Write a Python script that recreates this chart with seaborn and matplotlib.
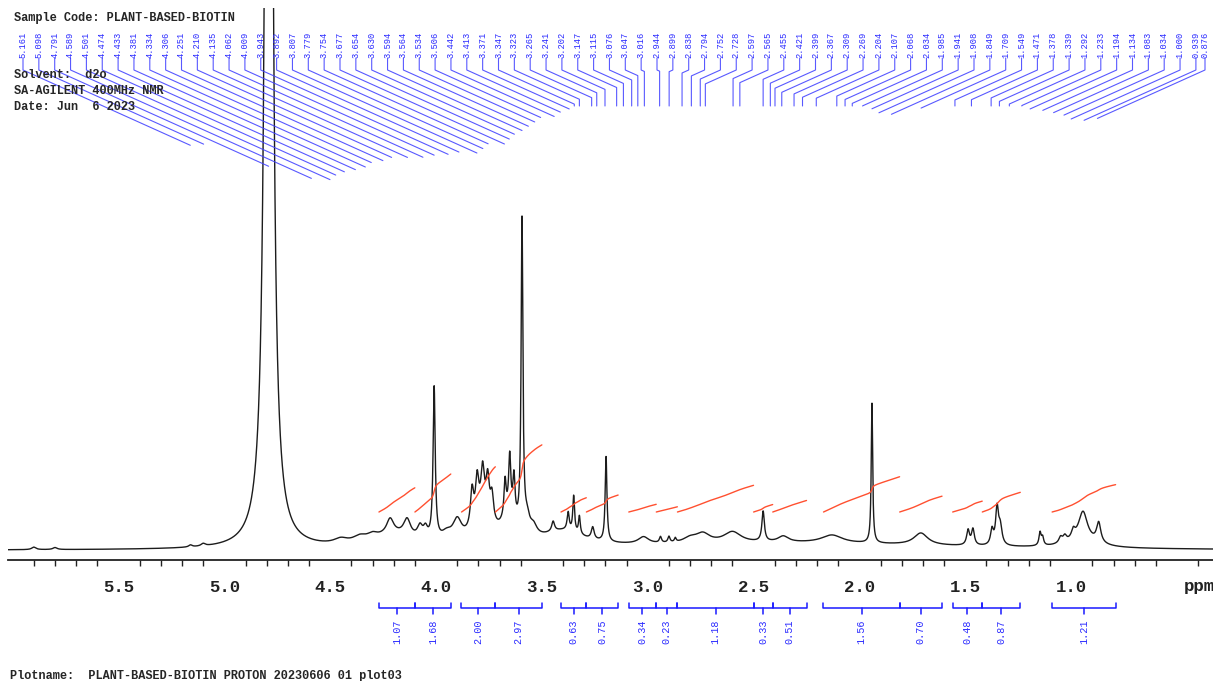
import numpy as np
import pandas as pd
import matplotlib
matplotlib.use("Agg")
import matplotlib.pyplot as plt
import seaborn as sns
from matplotlib.transforms import blended_transform_factory
from matplotlib.ticker import MultipleLocator, FuncFormatter

# ---------------- data ----------------
baseline_level = 9.5
peak_ppm = [4.790, 5.90, 5.80, 5.16, 5.10,
            4.45, 4.36, 4.30, 4.20, 4.217, 4.137, 4.076, 4.05, 4.009,
            3.95, 3.90, 3.78, 3.830, 3.806, 3.780, 3.756, 3.736,
            3.655, 3.674, 3.652, 3.632, 3.594, 3.57, 3.54,
            3.40, 3.447, 3.376, 3.350, 3.323, 3.26, 3.197,
            2.30, 3.02, 2.94, 2.90, 2.87, 2.80, 2.74, 2.60, 2.455, 2.36, 2.13,
            1.941, 1.71, 1.487, 1.464, 1.374, 1.350, 1.335, 1.147, 1.135,
            0.95, 1.05, 1.03, 0.99, 0.944, 0.87]
peak_height = [2430, 2.5, 2.0, 2.0, 2.5,
               5, 6, 5, 12, 15, 17, 12, 10, 152,
               8, 20, 32, 36, 38, 38, 36, 26,
               25, 35, 55, 40, 310, 15, 10,
               15, 10, 18, 36, 18, 12, 85,
               7, 7, 6, 6, 4, 5, 9, 11, 30, 6, 8,
               140, 12, 15, 16, 15, 36, 18, 13, 8,
               8, 6, 6, 8, 28, 20]
peak_hwhm = [0.012, 0.012, 0.012, 0.010, 0.012,
             0.04, 0.04, 0.03, 0.12, 0.02, 0.02, 0.015, 0.012, 0.006,
             0.03, 0.025, 0.045, 0.009, 0.009, 0.009, 0.009, 0.009,
             0.04, 0.006, 0.006, 0.006, 0.005, 0.015, 0.02,
             0.12, 0.008, 0.006, 0.005, 0.005, 0.008, 0.005,
             0.9, 0.03, 0.006, 0.006, 0.005, 0.04, 0.04, 0.05, 0.007, 0.03, 0.06,
             0.004, 0.04, 0.008, 0.008, 0.008, 0.008, 0.01, 0.006, 0.006,
             0.08, 0.01, 0.01, 0.01, 0.025, 0.012]

peak_labels = [5.161, 5.098, 4.791, 4.589, 4.501, 4.474, 4.433, 4.381, 4.334, 4.306,
               4.251, 4.210, 4.135, 4.062, 4.009, 3.943, 3.892, 3.807, 3.779, 3.754,
               3.677, 3.654, 3.630, 3.594, 3.564, 3.534, 3.506, 3.442, 3.413, 3.371,
               3.347, 3.323, 3.265, 3.241, 3.202, 3.147, 3.115, 3.076, 3.047, 3.016,
               2.944, 2.899, 2.838, 2.794, 2.752, 2.728, 2.597, 2.565, 2.455, 2.421,
               2.399, 2.367, 2.309, 2.269, 2.204, 2.107, 2.068, 2.034, 1.985, 1.941,
               1.908, 1.849, 1.709, 1.549, 1.471, 1.378, 1.339, 1.292, 1.233, 1.194,
               1.134, 1.083, 1.034, 1.000, 0.939, 0.876]

int_start = [4.27, 4.10, 3.88, 3.72, 3.41, 3.29, 3.09, 2.96, 2.86, 2.50, 2.41, 2.17, 1.81, 1.56, 1.42, 1.09]
int_end = [4.10, 3.93, 3.72, 3.50, 3.29, 3.14, 2.96, 2.86, 2.50, 2.41, 2.25, 1.81, 1.61, 1.42, 1.24, 0.79]
int_values = [1.07, 1.68, 2.00, 2.97, 0.63, 0.75, 0.34, 0.23, 1.18, 0.33, 0.51, 1.56, 0.70, 0.48, 0.87, 1.21]

header_lines = ["Sample Code: PLANT-BASED-BIOTIN", "Solvent:  d2o",
                "SA-AGILENT 400MHz NMR", "Date: Jun  6 2023"]
plotname = "Plotname:  PLANT-BASED-BIOTIN PROTON 20230606 01 plot03"

# ---------------- spectrum from peak list ----------------
ppm = np.linspace(6.03, 0.32, 12000)
intensity = np.full_like(ppm, baseline_level)
for p, h, w in zip(peak_ppm, peak_height, peak_hwhm):
    intensity += h / (1.0 + ((ppm - p) / w) ** 2)
df = pd.DataFrame({"ppm": ppm, "intensity": intensity})

# ---------------- figure ----------------
sns.set_theme(style="white")
plt.rcParams["font.family"] = ["Liberation Mono", "DejaVu Sans Mono"]

W, H = 1213, 681
fig = plt.figure(figsize=(W / 100, H / 100), dpi=100)
ax = fig.add_axes([8 / W, (H - 560) / H, (W - 8) / W, (560 - 8) / H])
sns.lineplot(data=df, x="ppm", y="intensity", ax=ax, estimator=None, sort=False,
             color="#1c1c1c", lw=1.0)
ax.set_xlim(6.022, 0.330)
ax.set_ylim(0, 552)
ax.set_xlabel("")
ax.set_ylabel("")
ax.set_yticks([])
for s in ["top", "left", "right"]:
    ax.spines[s].set_visible(False)
ax.spines["bottom"].set_color("#222222")
ax.spines["bottom"].set_linewidth(1.3)
ax.xaxis.set_major_locator(MultipleLocator(0.5))
ax.xaxis.set_minor_locator(MultipleLocator(0.1))
ax.xaxis.set_major_formatter(FuncFormatter(
    lambda v, pos: "" if (v > 5.9 or v < 0.6) else f"{v:.1f}"))
ax.tick_params(axis="x", which="major", length=7.5, width=1.2, direction="out",
               color="#222222", pad=7, labelsize=12.5, labelcolor="#222222")
ax.tick_params(axis="x", which="minor", length=4.5, width=1.0, direction="out",
               color="#222222", bottom=True)
for lab in ax.get_xticklabels():
    lab.set_fontweight("bold")

# integral curves (red), rising from a common offset
int_offset = 48
int_scale = 22.6
for s, e, v in zip(int_start, int_end, int_values):
    m = (ppm <= s) & (ppm >= e)
    seg_x = ppm[m]
    cum = np.cumsum(intensity[m])
    cum = cum - cum[0]
    seg_y = int_offset + cum / cum[-1] * v * int_scale
    ax.plot(seg_x, seg_y, color="#ff5030", lw=1.0, zorder=4)

# overlay in figure pixels
ov = fig.add_axes([0, 0, 1, 1], zorder=5)
ov.set_xlim(0, W)
ov.set_ylim(H, 0)
ov.axis("off")
ov.patch.set_alpha(0)

def px_of(v):
    return ax.transData.transform((v, 0))[0]

# header text
hdr_y = [18, 75, 91, 107]
for t, y in zip(header_lines, hdr_y):
    ov.text(14, y, t, fontsize=8.6, fontweight="bold", color="#262626",
            ha="left", va="center")
ov.text(10, 676, plotname, fontsize=8.6, fontweight="bold", color="#262626",
        ha="left", va="center")
ov.text(1184, 587, "ppm", fontsize=12.5, fontweight="bold", color="#222222",
        ha="left", va="center")

# peak labels and leader lines
blue = "#2a2aff"
for i, v in enumerate(peak_labels):
    lx = min(23 + i * 15.85, 1205)
    px = px_of(v)
    ov.text(lx, 45, f"{v:.3f}", rotation=90, fontsize=6.3, color=blue,
            ha="center", va="center")
    ya = 70
    yb = ya + 0.45 * abs(px - lx)
    yend = max(yb, 106)
    ov.plot([lx, lx, px, px], [58, ya, yb, yend], color="#3c3cff", lw=0.8,
            alpha=0.85, solid_joinstyle="miter")

# integral brackets
tr = blended_transform_factory(ax.transData, ov.transData)
for s, e, v in zip(int_start, int_end, int_values):
    c = (s + e) / 2
    ov.plot([s, s, e, e], [603, 608, 608, 603], color="#1a1aff", lw=1.1,
            transform=tr)
    ov.plot([c, c], [608, 614], color="#1a1aff", lw=1.1, transform=tr)
    ov.text(c, 632, f"{v:.2f}", rotation=90, fontsize=7.3, color=blue,
            ha="center", va="center", transform=tr)

fig.savefig("out.png", dpi=100)
